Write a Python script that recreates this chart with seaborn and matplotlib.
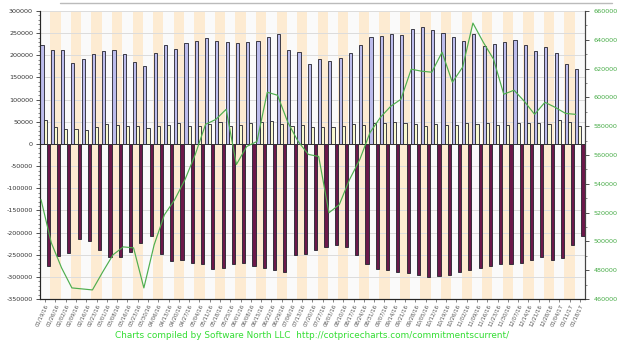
import matplotlib
matplotlib.use("Agg")
import matplotlib.pyplot as plt
from matplotlib.ticker import MultipleLocator, StrMethodFormatter
from matplotlib.lines import Line2D
import seaborn as sns
import pandas as pd
import numpy as np

dates = ["01/19/16", "01/26/16", "02/02/16", "02/09/16", "02/16/16", "02/23/16", "03/01/16", "03/08/16",
         "03/16/16", "03/23/16", "03/30/16", "04/06/16", "04/13/16", "04/20/16", "04/27/16", "05/04/16",
         "05/11/16", "05/18/16", "05/25/16", "06/01/16", "06/08/16", "06/15/16", "06/22/16", "06/29/16",
         "07/06/16", "07/13/16", "07/20/16", "07/27/16", "08/03/16", "08/10/16", "08/17/16", "08/24/16",
         "08/31/16", "09/07/16", "09/14/16", "09/21/16", "09/28/16", "10/05/16", "10/12/16", "10/19/16",
         "10/26/16", "11/02/16", "11/09/16", "11/16/16", "11/23/16", "11/30/16", "12/07/16", "12/14/16",
         "12/21/16", "12/28/16", "01/04/17", "01/11/17", "01/18/17"]

large_specs = [223000, 213000, 211700, 183000, 190600, 202000, 209400, 211000, 202600, 185200, 175500,
               205600, 223000, 214000, 227500, 232700, 238000, 232700, 230500, 227500, 230500, 232700,
               241800, 247900, 211700, 206500, 180000, 190600, 186800, 192900, 205600, 222300, 240400,
               242700, 247900, 246400, 259200, 263100, 257700, 250900, 240400, 232700, 247900, 220700,
               224600, 230500, 234300, 222300, 208900, 217800, 204200, 180000, 168000]

small_specs = [53000, 38000, 34400, 32800, 30600, 38000, 44800, 42600, 41200, 39600, 35100, 41500,
               43500, 47100, 39600, 41200, 45700, 48700, 39600, 42600, 46400, 50300, 51600, 45700,
               39600, 42600, 38000, 38000, 38000, 39600, 44800, 43500, 46400, 48000, 50300, 48000,
               44800, 39600, 44800, 43500, 43500, 46400, 44800, 46400, 43500, 43500, 46400, 48000,
               47100, 45700, 53000, 48700, 41200]

commercials = [-275000, -252000, -247000, -214600, -220000, -239500, -254700, -254700, -245000, -224600,
               -207000, -248000, -265000, -262000, -268000, -272000, -282000, -280000, -272000, -268000,
               -275000, -280000, -285000, -290000, -250000, -248000, -240000, -232000, -228000, -232000,
               -250000, -270000, -282000, -285000, -290000, -292000, -295000, -300000, -298000, -296000,
               -290000, -285000, -280000, -275000, -270000, -272000, -268000, -262000, -255000, -262000,
               -258000, -228000, -207000]

price = [529000, 499000, 481600, 467700, 467000, 466300, 478800, 490700, 496200, 495500, 467700,
         497600, 518500, 529000, 542900, 560400, 581300, 584700, 591700, 553400, 565900, 569400,
         603600, 601500, 582700, 569400, 560400, 559000, 519900, 525500, 542900, 556900, 575700,
         586100, 593800, 598700, 619600, 618200, 617500, 631400, 610500, 621000, 651600, 638400,
         626600, 602200, 605000, 597300, 588200, 596600, 593100, 588900, 588200]

series_names = ["Large Specs", "Small Specs", "Commercials"]
series_colors = ["#B4B4F4", "#FFFFC8", "#7A0A4C"]

n = len(dates)
df = pd.DataFrame({
    "date": dates * 3,
    "value": large_specs + small_specs + commercials,
    "series": [series_names[0]] * n + [series_names[1]] * n + [series_names[2]] * n,
})

sns.set_style("white")
plt.rcParams["font.family"] = ["DejaVu Sans"]
plt.rcParams["axes.unicode_minus"] = False

fig = plt.figure(figsize=(6.28, 3.49), dpi=100)
ax = fig.add_axes([40 / 628, 50 / 349, 545 / 628, 288 / 349])
ax.set_facecolor("#FAFAFA")

# alternating column stripes
for i in range(n):
    if i % 2 == 1:
        ax.axvspan(i - 0.5, i + 0.5, color="#FDEBD2", zorder=0, lw=0)

sns.barplot(data=df, x="date", y="value", hue="series", hue_order=series_names,
            palette=series_colors, order=dates, dodge=True, width=0.92,
            edgecolor="#22222E", linewidth=0.6, legend=False, ax=ax, zorder=3)

ax.set_xlim(-0.5, n - 0.5)
ax.yaxis.set_major_locator(MultipleLocator(50000))
ax.yaxis.set_minor_locator(MultipleLocator(10000))
ax.yaxis.set_major_formatter(StrMethodFormatter("{x:.0f}"))
ax.set_ylim(-350000, 300000)
ax.grid(axis="y", color="#DCDCDC", lw=0.7, zorder=1)
ax.axhline(0, color="#333333", lw=0.6, zorder=4)
ax.set_axisbelow(True)
ax.set_xlabel("")
ax.set_ylabel("")
ax.tick_params(axis="y", which="major", labelsize=4.6, length=3, width=0.6, colors="#333333",
               left=True, pad=2)
ax.tick_params(axis="y", which="minor", length=1.5, width=0.5, colors="#555555", left=True)
ax.tick_params(axis="x", labelsize=3.9, length=2, width=0.5, colors="#555555", bottom=True, pad=1)
ax.set_xticks(range(n))
ax.set_xticklabels(dates, rotation=65, ha="right", rotation_mode="anchor")
for s in ["left", "bottom", "right"]:
    ax.spines[s].set_color("#444444")
    ax.spines[s].set_linewidth(0.8)
ax.spines["top"].set_visible(False)

ax2 = ax.twinx()
sns.lineplot(x=np.arange(n) - 0.4, y=price, ax=ax2, color="#4EAE4E", lw=0.85, zorder=5)
ax2.yaxis.set_major_locator(MultipleLocator(20000))
ax2.yaxis.set_minor_locator(MultipleLocator(10000))
ax2.yaxis.set_major_formatter(StrMethodFormatter("{x:.0f}"))
ax2.set_ylim(460000, 660000)
ax2.tick_params(axis="y", which="major", labelsize=4.6, length=3, width=0.6, colors="#333333",
                labelcolor="#44AA44", pad=3)
ax2.tick_params(axis="y", which="minor", length=1.5, width=0.5, colors="#555555", right=True)
ax2.set_xlim(-0.5, n - 0.5)
ax2.set_ylabel("")
ax2.spines["top"].set_visible(False)
ax2.spines["right"].set_color("#444444")

fig.add_artist(Line2D([60 / 628, 612 / 628], [1 - 3 / 349, 1 - 3 / 349], color="#BBBBBB", lw=1))

fig.text(0.497, 0.04, "Charts compiled by Software North LLC  http://cotpricecharts.com/commitmentscurrent/",
         ha="center", va="center", fontsize=6.4, color="#33DD33")

fig.savefig("out.png", dpi=100)
